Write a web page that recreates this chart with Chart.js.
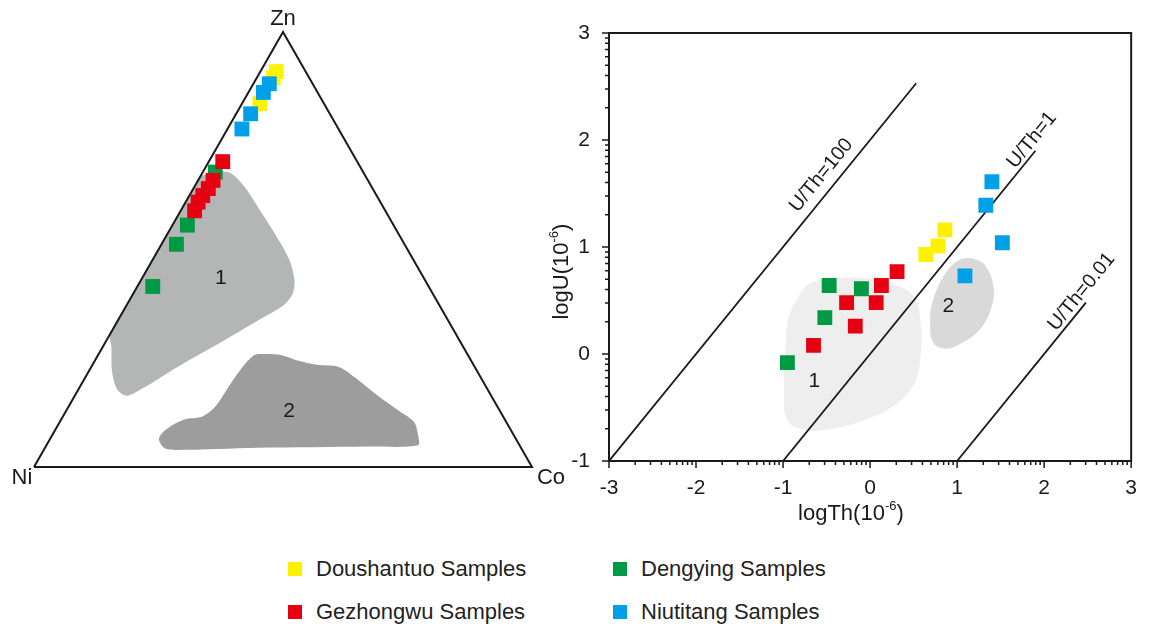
<!DOCTYPE html>
<html>
<head>
<meta charset="utf-8">
<script src="https://cdn.jsdelivr.net/npm/chart.js@4.4.1/dist/chart.umd.min.js"></script>
<style>
  html, body { margin: 0; padding: 0; background: #fff; }
  body { width: 1152px; height: 633px; position: relative; overflow: hidden; font-family: Arial, "Liberation Sans", sans-serif; }
  #ternary { position: absolute; left: 0; top: 0; }
  #scatter { position: absolute; left: 540px; top: 0; }
  .lg { position: absolute; display: flex; align-items: center; font-size: 22px; line-height: 24px; color: #222; }
  .sw { display: inline-block; width: 14px; height: 14px; margin-right: 14px; }
</style>
</head>
<body>
<canvas id="ternary" width="580" height="500"></canvas>
<canvas id="scatter" width="612" height="545"></canvas>
<div id="legend"></div>
<script>
// series
const seriesNames = ["Doushantuo Samples", "Gezhongwu Samples", "Dengying Samples", "Niutitang Samples"];
const seriesColors = ["#fff200", "#e60012", "#009944", "#00a0e9"];

// right panel: logTh / logU
const thTicks = [-3, -2, -1, 0, 1, 2, 3];
const uTicks = [-1, 0, 1, 2, 3];
const xTitleParts = ["logTh(10", "-6", ")"];
const yTitleParts = ["logU(10", "-6", ")"];
const doushantuoTh = [0.64, 0.78, 0.86];
const doushantuoU = [0.93, 1.01, 1.16];
const gezhongwuTh = [-0.65, -0.17, -0.27, 0.07, 0.13, 0.31];
const gezhongwuU = [0.08, 0.26, 0.48, 0.48, 0.64, 0.77];
const dengyingTh = [-0.95, -0.52, -0.47, -0.10];
const dengyingU = [-0.08, 0.34, 0.64, 0.61];
const niutitangTh = [1.40, 1.33, 1.52, 1.09];
const niutitangU = [1.61, 1.39, 1.04, 0.73];

// U/Th reference lines (logU = logTh + offset)
const ratioLabels = ["U/Th=100", "U/Th=1", "U/Th=0.01"];
const ratioOffsets = [2, 0, -2];
const ratioStartTh = [-3, -1, 1];
const ratioEndTh = [0.53, 1.9, 2.48];
const ratioLabelTh = [-0.56, 1.86, 2.43];
const ratioLabelU = [1.67, 2.0, 0.58];

// fields in logTh/logU
const field1Th = [-0.88, -0.71, -0.45, -0.11, 0.24, 0.50, 0.58, 0.58, 0.50, 0.28, -0.07, -0.45, -0.75, -0.95, -0.99, -0.97, -0.95];
const field1U = [0.46, 0.65, 0.70, 0.71, 0.66, 0.54, 0.30, -0.01, -0.29, -0.48, -0.62, -0.70, -0.71, -0.62, -0.33, 0.08, 0.30];
const field2Th = [1.16, 1.31, 1.42, 1.38, 1.25, 1.05, 0.88, 0.73, 0.69, 0.73, 0.88, 1.03];
const field2U = [0.90, 0.84, 0.62, 0.40, 0.22, 0.10, 0.05, 0.10, 0.30, 0.52, 0.77, 0.88];
const fieldLabels = ["1", "2"];
const fieldLabelTh = [-0.64, 0.90];
const fieldLabelU = [-0.25, 0.45];

// left panel: Zn-Ni-Co fractions
const doushantuoZn = [0.909, 0.895, 0.835];
const doushantuoNi = [0.059, 0.072, 0.129];
const doushantuoCo = [0.032, 0.033, 0.036];
const gezhongwuZn = [0.702, 0.659, 0.640, 0.624, 0.609, 0.589];
const gezhongwuNi = [0.270, 0.311, 0.330, 0.349, 0.366, 0.383];
const gezhongwuCo = [0.028, 0.030, 0.030, 0.027, 0.025, 0.028];
const dengyingZn = [0.678, 0.556, 0.512, 0.415];
const dengyingNi = [0.297, 0.414, 0.458, 0.554];
const dengyingCo = [0.025, 0.030, 0.030, 0.031];
const niutitangZn = [0.881, 0.861, 0.812, 0.777];
const niutitangNi = [0.087, 0.109, 0.159, 0.194];
const niutitangCo = [0.032, 0.030, 0.029, 0.029];

const vertexLabels = ["Zn", "Ni", "Co"];
// field outlines as Zn / Co fractions
const tField1Zn = [0.670, 0.680, 0.674, 0.643, 0.585, 0.531, 0.477, 0.430, 0.399, 0.372, 0.337, 0.287, 0.229, 0.182, 0.164, 0.178, 0.221, 0.275, 0.306, 0.400, 0.500, 0.600, 0.670];
const tField1Co = [0.000, 0.036, 0.060, 0.102, 0.164, 0.221, 0.274, 0.308, 0.320, 0.315, 0.281, 0.232, 0.172, 0.129, 0.105, 0.078, 0.046, 0.018, 0.000, 0.000, 0.000, 0.000, 0.000];
const tField2Zn = [0.260, 0.258, 0.244, 0.235, 0.230, 0.205, 0.167, 0.128, 0.103, 0.074, 0.050, 0.047, 0.044, 0.039, 0.044, 0.066, 0.089, 0.109, 0.116, 0.140, 0.190, 0.236, 0.257, 0.260];
const tField2Co = [0.320, 0.365, 0.409, 0.450, 0.497, 0.543, 0.603, 0.670, 0.712, 0.734, 0.746, 0.648, 0.427, 0.267, 0.239, 0.218, 0.224, 0.247, 0.280, 0.295, 0.299, 0.305, 0.313, 0.320];
const tFieldLabelZn = [0.434, 0.128];
const tFieldLabelCo = [0.158, 0.448];

const inkColor = "#1a1a1a";
const textFont = "Arial, 'Liberation Sans', sans-serif";

function pairs(xs, ys) { return xs.map((x, i) => ({ x: x, y: ys[i] })); }
function tern(zn, co) { return zn.map((z, i) => ({ x: co[i] + z / 2, y: z })); }

function pointSet(name, data, color, order) {
  return { label: name, data: data, pointStyle: "rect", pointRadius: 10.5, backgroundColor: color, borderWidth: 0, order: order };
}

function drawLabel(ctx, text, x, y, size, angle) {
  ctx.save();
  ctx.translate(x, y);
  ctx.rotate(angle || 0);
  ctx.font = size + "px " + textFont;
  ctx.fillStyle = inkColor;
  ctx.textAlign = "center";
  ctx.textBaseline = "middle";
  ctx.fillText(text, 0, 0);
  ctx.restore();
}

// text with a superscript middle part
function drawSupLabel(ctx, parts, x, y, size, angle) {
  const supSize = Math.round(size * 0.6);
  ctx.save();
  ctx.translate(x, y);
  ctx.rotate(angle || 0);
  ctx.fillStyle = inkColor;
  ctx.textBaseline = "alphabetic";
  ctx.textAlign = "left";
  const fonts = [size, supSize, size].map(s => s + "px " + textFont);
  const widths = parts.map((p, i) => { ctx.font = fonts[i]; return ctx.measureText(p).width; });
  let cx = -widths.reduce((s, w) => s + w, 0) / 2;
  parts.forEach((p, i) => {
    ctx.font = fonts[i];
    ctx.fillText(p, cx, i === 1 ? size * 0.35 - size * 0.42 : size * 0.35);
    cx += widths[i];
  });
  ctx.restore();
}

// ---------- ternary ----------
const ternaryDecor = {
  id: "ternaryDecor",
  afterDatasetsDraw(chart) {
    const ctx = chart.ctx, xs = chart.scales.x, ys = chart.scales.y;
    const apex = tern([1], [0])[0], ni = tern([0], [0])[0], co = tern([0], [1])[0];
    drawLabel(ctx, vertexLabels[0], xs.getPixelForValue(apex.x), ys.getPixelForValue(apex.y) - 13, 22);
    drawLabel(ctx, vertexLabels[1], xs.getPixelForValue(ni.x) - 12, ys.getPixelForValue(ni.y) + 11, 22);
    drawLabel(ctx, vertexLabels[2], xs.getPixelForValue(co.x) + 19, ys.getPixelForValue(co.y) + 11, 22);
    tern(tFieldLabelZn, tFieldLabelCo).forEach((p, i) => {
      drawLabel(ctx, fieldLabels[i], xs.getPixelForValue(p.x), ys.getPixelForValue(p.y), 21);
    });
  }
};

new Chart(document.getElementById("ternary"), {
  type: "scatter",
  data: {
    datasets: [
      pointSet(seriesNames[0], tern(doushantuoZn, doushantuoCo), seriesColors[0], 3),
      pointSet(seriesNames[1], tern(gezhongwuZn, gezhongwuCo), seriesColors[1], 1),
      pointSet(seriesNames[2], tern(dengyingZn, dengyingCo), seriesColors[2], 2),
      pointSet(seriesNames[3], tern(niutitangZn, niutitangCo), seriesColors[3], 0),
      { data: tern([0, 0, 1, 0], [0, 1, 0, 0]), showLine: true, pointRadius: 0, borderColor: inkColor, borderWidth: 2, clip: false, order: 5 },
      { data: tern(tField1Zn, tField1Co), showLine: true, pointRadius: 0, borderWidth: 0, tension: 0.3, fill: "shape", backgroundColor: "#b4b5b5", order: 6 },
      { data: tern(tField2Zn, tField2Co), showLine: true, pointRadius: 0, borderWidth: 0, tension: 0.3, fill: "shape", backgroundColor: "#9d9d9d", order: 7 }
    ]
  },
  options: {
    responsive: false,
    animation: false,
    events: [],
    devicePixelRatio: 1,
    layout: { padding: { left: 34, right: 48, top: 32, bottom: 33 } },
    plugins: { legend: { display: false }, tooltip: { enabled: false } },
    scales: {
      x: { type: "linear", min: 0, max: 1, display: false },
      y: { type: "linear", min: 0, max: 1, display: false }
    }
  },
  plugins: [ternaryDecor]
});

// ---------- logTh vs logU ----------
const scatterDecor = {
  id: "scatterDecor",
  afterDatasetsDraw(chart) {
    const ctx = chart.ctx, xs = chart.scales.x, ys = chart.scales.y, a = chart.chartArea;
    ctx.save();
    ctx.strokeStyle = inkColor;
    ctx.lineWidth = 2;
    ctx.strokeRect(a.left, a.top, a.right - a.left, a.bottom - a.top);
    ctx.lineWidth = 1.5;
    ctx.beginPath();
    thTicks.forEach((t, i) => {
      const px = xs.getPixelForValue(t);
      ctx.moveTo(px, a.bottom); ctx.lineTo(px, a.bottom + 7);
      if (i < thTicks.length - 1) {
        for (let k = 2; k <= 9; k++) {
          const mx = xs.getPixelForValue(t + Math.log10(k));
          ctx.moveTo(mx, a.bottom); ctx.lineTo(mx, a.bottom + 4);
        }
      }
    });
    uTicks.forEach((t, i) => {
      const py = ys.getPixelForValue(t);
      ctx.moveTo(a.left, py); ctx.lineTo(a.left - 7, py);
      if (i < uTicks.length - 1) {
        for (let k = 2; k <= 9; k++) {
          const my = ys.getPixelForValue(t + Math.log10(k));
          ctx.moveTo(a.left, my); ctx.lineTo(a.left - 4, my);
        }
      }
    });
    ctx.stroke();
    ctx.restore();
    // axis titles with real superscript
    drawSupLabel(ctx, xTitleParts, xs.getPixelForValue(-0.22), a.bottom + 51, 22, 0);
    drawSupLabel(ctx, yTitleParts, a.left - 49, ys.getPixelForValue(0.77), 22, -Math.PI / 2);
    const ang = Math.atan2(ys.getPixelForValue(1) - ys.getPixelForValue(0), xs.getPixelForValue(1) - xs.getPixelForValue(0));
    ratioLabels.forEach((txt, i) => {
      drawLabel(ctx, txt, xs.getPixelForValue(ratioLabelTh[i]), ys.getPixelForValue(ratioLabelU[i]), 20, ang);
    });
    fieldLabels.forEach((txt, i) => {
      drawLabel(ctx, txt, xs.getPixelForValue(fieldLabelTh[i]), ys.getPixelForValue(fieldLabelU[i]), 21);
    });
  }
};

const ratioSets = ratioLabels.map((lbl, i) => ({
  label: lbl,
  data: [
    { x: ratioStartTh[i], y: ratioStartTh[i] + ratioOffsets[i] },
    { x: ratioEndTh[i], y: ratioEndTh[i] + ratioOffsets[i] }
  ],
  showLine: true, pointRadius: 0, borderColor: inkColor, borderWidth: 1.8, order: 5
}));

new Chart(document.getElementById("scatter"), {
  type: "scatter",
  data: {
    datasets: [
      pointSet(seriesNames[0], pairs(doushantuoTh, doushantuoU), seriesColors[0], 3),
      pointSet(seriesNames[1], pairs(gezhongwuTh, gezhongwuU), seriesColors[1], 1),
      pointSet(seriesNames[2], pairs(dengyingTh, dengyingU), seriesColors[2], 2),
      pointSet(seriesNames[3], pairs(niutitangTh, niutitangU), seriesColors[3], 0),
      ...ratioSets,
      { data: pairs(field1Th.concat(field1Th[0]), field1U.concat(field1U[0])), showLine: true, pointRadius: 0, borderWidth: 0, tension: 0.4, fill: "shape", backgroundColor: "#eeeeee", order: 6 },
      { data: pairs(field2Th.concat(field2Th[0]), field2U.concat(field2U[0])), showLine: true, pointRadius: 0, borderWidth: 0, tension: 0.4, fill: "shape", backgroundColor: "#d9d9d9", order: 7 }
    ]
  },
  options: {
    responsive: false,
    animation: false,
    events: [],
    devicePixelRatio: 1,
    layout: { padding: { left: 3, right: 19, top: 33, bottom: 16 } },
    plugins: { legend: { display: false }, tooltip: { enabled: false } },
    scales: {
      x: {
        type: "linear", min: -3, max: 3,
        afterBuildTicks: s => { s.ticks = thTicks.map(v => ({ value: v })); },
        afterFit: s => { s.height = 68; },
        grid: { display: false, drawTicks: false },
        border: { display: false },
        ticks: { color: inkColor, font: { size: 21, family: textFont }, padding: 15, maxRotation: 0, autoSkip: false },
        title: { display: false }
      },
      y: {
        type: "linear", min: -1, max: 3,
        afterBuildTicks: s => { s.ticks = uTicks.map(v => ({ value: v })); },
        afterFit: s => { s.width = 66; },
        grid: { display: false, drawTicks: false },
        border: { display: false },
        ticks: { color: inkColor, font: { size: 21, family: textFont }, padding: 19, autoSkip: false },
        title: { display: false }
      }
    }
  },
  plugins: [scatterDecor]
});

// ---------- legend ----------
const legendLeft = [288, 288, 613, 613];
const legendTop = [557, 600, 557, 600];
const legendBox = document.getElementById("legend");
seriesNames.forEach((name, i) => {
  const item = document.createElement("div");
  item.className = "lg";
  item.style.left = legendLeft[i] + "px";
  item.style.top = legendTop[i] + "px";
  const sw = document.createElement("span");
  sw.className = "sw";
  sw.style.background = seriesColors[i];
  item.appendChild(sw);
  item.appendChild(document.createTextNode(name));
  legendBox.appendChild(item);
});
</script>
</body>
</html>
